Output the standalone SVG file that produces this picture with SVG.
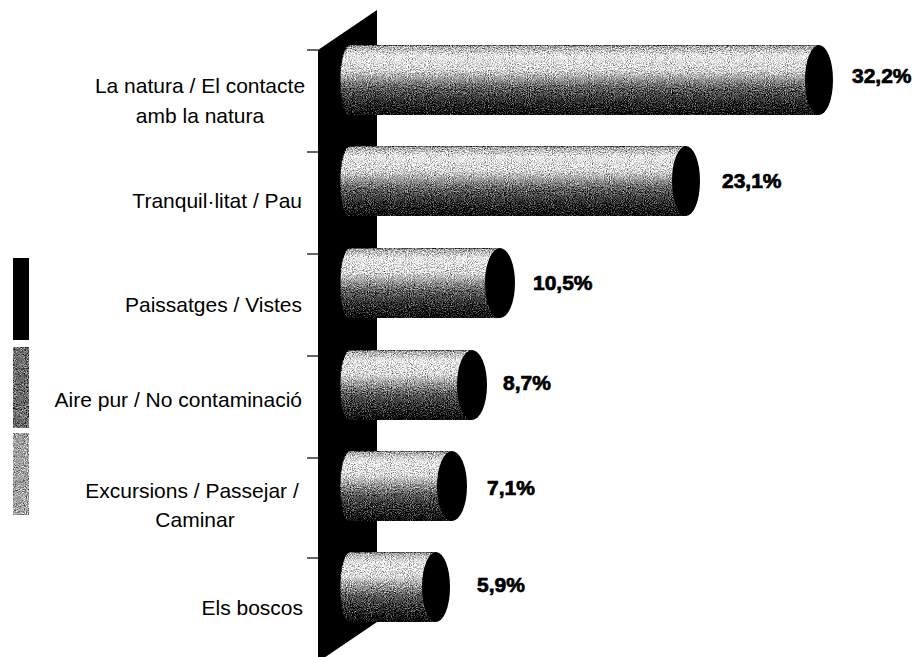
<svg xmlns="http://www.w3.org/2000/svg" width="913" height="657" viewBox="0 0 913 657">
<style>
.lbl{font-family:"Liberation Sans",Arial,sans-serif;font-size:21px;fill:#000}
.pct{font-family:"Liberation Sans",Arial,sans-serif;font-size:21px;font-weight:bold;fill:#000;stroke:#000;stroke-width:0.7}
.body{fill:url(#barGrad);filter:url(#grain);stroke:#111;stroke-width:1}
.cap{fill:#000}
.tick{stroke:#000;stroke-width:1.2}
</style>
<defs>
<linearGradient id="barGrad" x1="0" y1="0" x2="0" y2="1">
<stop offset="0" stop-color="#9a9a9a"/>
<stop offset="0.15" stop-color="#e8e8e8"/>
<stop offset="0.35" stop-color="#d8d8d8"/>
<stop offset="0.62" stop-color="#5a5a5a"/>
<stop offset="1" stop-color="#000000"/>
</linearGradient>
<filter id="grain" x="0" y="0" width="1" height="1" color-interpolation-filters="sRGB">
<feTurbulence type="fractalNoise" baseFrequency="0.95" numOctaves="2" seed="7" result="t"/>
<feColorMatrix in="t" type="matrix" values="0.5 0.5 0 0 0  0.5 0.5 0 0 0  0.5 0.5 0 0 0  0 0 0 0 1" result="g"/>
<feComposite in="SourceGraphic" in2="g" operator="arithmetic" k1="0" k2="1" k3="2" k4="-1" result="m"/>
<feComposite in="m" in2="SourceAlpha" operator="in"/>
</filter>
</defs>
<rect width="913" height="657" fill="#fff"/>

<g id="wall">
<polygon points="318,50 377,10 377,622 318,662" fill="#000"/>
</g>

<g id="connectors">
<line class="tick" x1="307" y1="50" x2="318" y2="50"/>
<line class="tick" x1="307" y1="152" x2="318" y2="152"/>
<line class="tick" x1="307" y1="254" x2="318" y2="254"/>
<line class="tick" x1="307" y1="356" x2="318" y2="356"/>
<line class="tick" x1="307" y1="458" x2="318" y2="458"/>
<line class="tick" x1="307" y1="558" x2="318" y2="558"/>
</g>

<g id="legend">
<rect x="13" y="258" width="16" height="82" fill="#000"/>
<rect x="13" y="347" width="16" height="81" fill="#6a6a6a" filter="url(#grain)"/>
<rect x="13" y="433" width="16" height="82" fill="#a0a0a0" filter="url(#grain)"/>
</g>

<g id="bar-natura">
<path class="body" d="M350,45 L819,45 L819,115 L350,115 A10 35 0 0 1 350,45 Z"/>
<ellipse class="cap" cx="819" cy="80" rx="14" ry="35"/>
<text class="lbl" x="200" y="93" text-anchor="middle">La natura / El contacte</text>
<text class="lbl" x="200" y="123" text-anchor="middle">amb la natura</text>
<text class="pct" x="852" y="83">32,2%</text>
</g>

<g id="bar-tranquil">
<path class="body" d="M350,146 L686,146 L686,216 L350,216 A10 35 0 0 1 350,146 Z"/>
<ellipse class="cap" cx="686" cy="181" rx="14" ry="35"/>
<text class="lbl" x="302" y="208" text-anchor="end">Tranquil·litat / Pau</text>
<text class="pct" x="722" y="188">23,1%</text>
</g>

<g id="bar-paissatges">
<path class="body" d="M350,248 L500,248 L500,318 L350,318 A10 35 0 0 1 350,248 Z"/>
<ellipse class="cap" cx="500" cy="283" rx="15" ry="35"/>
<text class="lbl" x="302" y="312" text-anchor="end">Paissatges / Vistes</text>
<text class="pct" x="533" y="290">10,5%</text>
</g>

<g id="bar-aire">
<path class="body" d="M350,350 L472,350 L472,420 L350,420 A10 35 0 0 1 350,350 Z"/>
<ellipse class="cap" cx="472" cy="385" rx="15" ry="35"/>
<text class="lbl" x="302" y="407" text-anchor="end">Aire pur / No contaminació</text>
<text class="pct" x="503" y="390">8,7%</text>
</g>

<g id="bar-excursions">
<path class="body" d="M350,451 L452,451 L452,521 L350,521 A10 35 0 0 1 350,451 Z"/>
<ellipse class="cap" cx="452" cy="486" rx="15" ry="35"/>
<text class="lbl" x="192" y="498" text-anchor="middle">Excursions / Passejar /</text>
<text class="lbl" x="195" y="527" text-anchor="middle">Caminar</text>
<text class="pct" x="487" y="495">7,1%</text>
</g>

<g id="bar-boscos">
<path class="body" d="M350,552 L436,552 L436,622 L350,622 A10 35 0 0 1 350,552 Z"/>
<ellipse class="cap" cx="436" cy="587" rx="14" ry="35"/>
<text class="lbl" x="303" y="615" text-anchor="end">Els boscos</text>
<text class="pct" x="477" y="592">5,9%</text>
</g>
</svg>
